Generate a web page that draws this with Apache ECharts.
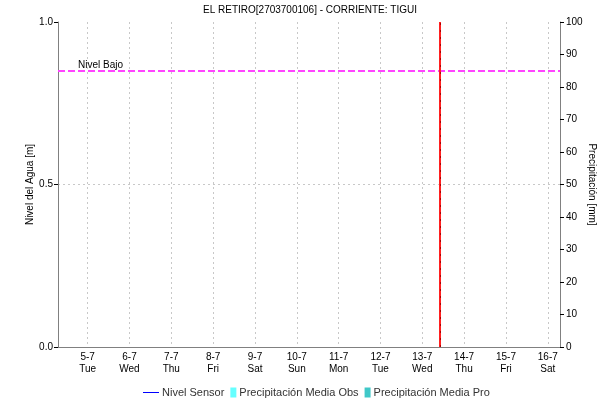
<!DOCTYPE html>
<html>
<head>
<meta charset="utf-8">
<script src="https://cdn.jsdelivr.net/npm/echarts@6/dist/echarts.min.js"></script>
<style>html,body{margin:0;padding:0;background:#fff}#c{width:602px;height:407px}</style>
</head>
<body>
<div id="c"></div>
<script>
// ---- data ----
// x values are in days of July 2022 (5 = 5-7 00:00)
const titleText = 'EL RETIRO[2703700106] - CORRIENTE: TIGUI';
const month = 7;
const dayNums = [5, 6, 7, 8, 9, 10, 11, 12, 13, 14, 15, 16];
const dayNames = ['Tue', 'Wed', 'Thu', 'Fri', 'Sat', 'Sun', 'Mon', 'Tue', 'Wed', 'Thu', 'Fri', 'Sat'];
const rangeStart = 4 + 7 / 24;     // 4-7 07:00
const rangeEnd = 16 + 7 / 24;      // 16-7 07:00
const nowMark = 13 + 10 / 24;      // red vertical line, 13-7 10:00
const nivelSensor = [];            // no sensor readings shown
const precipMediaObs = [];
const precipMediaPro = [];
const nivelBajo = 0.85;
const leftTicks = [0, 0.5, 1.0];
const rightTicks = [0, 10, 20, 30, 40, 50, 60, 70, 80, 90, 100];

const FONT = 'Liberation Sans';

const chart = echarts.init(document.getElementById('c'), null, {renderer:'canvas'});
chart.setOption({
  animation: false,
  backgroundColor: '#fff',
  textStyle: {fontFamily: FONT},
  title: {
    text: titleText, left: 198, top: 0,
    textStyle: {fontSize: 10, fontWeight: 'normal', color: '#000', fontFamily: FONT}
  },
  grid: {left: 58, right: 42, top: 22, bottom: 60, containLabel: false, outerBoundsMode: 'none'},
  legend: {
    bottom: 4, left: 138, itemGap: -4, itemWidth: 16, itemHeight: 10,
    textStyle: {fontSize: 11, color: '#333', fontFamily: FONT, padding: [0,0,0,-2]},
    data: [
      {name: 'Nivel Sensor', icon: 'path://M0,4.5L16,4.5L16,5.5L0,5.5Z'},
      {name: 'Precipitación Media Obs', icon: 'path://M0,0M10,0L16,0L16,10L10,10Z'},
      {name: 'Precipitación Media Pro', icon: 'path://M0,0M10,0L16,0L16,10L10,10Z'}
    ]
  },
  xAxis: [{
    type: 'value',
    min: rangeStart, max: rangeEnd,
    minInterval: 1, maxInterval: 1, splitNumber: 12,
    axisLine: {lineStyle: {color: '#222', type: [1, 1], width: 1}},
    axisTick: {show: false},
    axisLabel: {
      fontSize: 10, color: '#000', fontFamily: FONT, lineHeight: 12, margin: 4,
      showMinLabel: false, showMaxLabel: false,
      formatter: function(v){
        const i = dayNums.indexOf(Math.round(v));
        if (i < 0 || Math.abs(v - Math.round(v)) > 1e-6) return '';
        return dayNums[i] + '-' + month + '\n' + dayNames[i];
      }
    },
    splitLine: {show: true, lineStyle: {color: '#c8c8c8', type: [2, 3], width: 1}}
  }, {
    type: 'value', position: 'top',
    min: rangeStart, max: rangeEnd,
    axisLine: {show: true, lineStyle: {color: '#808080', width: 1}},
    axisTick: {show: false}, axisLabel: {show: false}, splitLine: {show: false}
  }],
  yAxis: [{
    type: 'value', min: leftTicks[0], max: leftTicks[leftTicks.length-1], interval: 0.5,
    name: 'Nivel del Agua [m]', nameLocation: 'middle', nameRotate: 90, nameGap: 23,
    nameMoveOverlap: false,
    nameTextStyle: {fontSize: 10, color: '#000', fontFamily: FONT},
    axisLine: {show: true, lineStyle: {color: '#808080'}},
    axisTick: {show: true, length: 4, lineStyle: {color: '#000'}},
    axisLabel: {fontSize: 10, color: '#000', margin: 5, formatter: v => v.toFixed(1)},
    splitLine: {show: true, lineStyle: {color: ['transparent', '#c8c8c8', 'transparent'], type: [2, 3]}}
  }, {
    type: 'value', min: rightTicks[0], max: rightTicks[rightTicks.length-1], interval: 10,
    position: 'right',
    name: 'Precipitación [mm]', nameLocation: 'middle', nameRotate: -90, nameGap: 27,
    nameMoveOverlap: false,
    nameTextStyle: {fontSize: 10, color: '#000', fontFamily: FONT},
    axisLine: {show: true, lineStyle: {color: '#808080'}},
    axisTick: {show: true, length: 4, lineStyle: {color: '#000'}},
    axisLabel: {fontSize: 10, color: '#000', margin: 6},
    splitLine: {show: false}
  }],
  series: [{
    name: 'Nivel Sensor', type: 'line', xAxisIndex: 0, yAxisIndex: 0,
    data: nivelSensor, showSymbol: false,
    lineStyle: {color: '#0000ff', width: 1}, itemStyle: {color: '#0000ff'},
    markLine: {
      silent: true, symbol: 'none', animation: false,
      data: [
        {yAxis: nivelBajo, name: 'Nivel Bajo',
         lineStyle: {color: '#ff44ff', width: 2, type: [7, 3]},
         label: {show: true, formatter: 'Nivel Bajo', position: 'insideStartTop',
                 distance: [20, 1], color: '#000', fontSize: 10, fontFamily: FONT}},
        {xAxis: nowMark, lineStyle: {color: '#ff2020', width: 2, type: 'solid'},
         label: {show: false}},
        {xAxis: nowMark, lineStyle: {color: '#b00000', width: 1, type: [2, 5]},
         label: {show: false}}
      ]
    }
  }, {
    name: 'Precipitación Media Obs', type: 'bar', xAxisIndex: 0, yAxisIndex: 1,
    data: precipMediaObs, itemStyle: {color: '#66ffff'}
  }, {
    name: 'Precipitación Media Pro', type: 'bar', xAxisIndex: 0, yAxisIndex: 1,
    data: precipMediaPro, itemStyle: {color: '#40c8c8'}
  }]
});
</script>
</body>
</html>
